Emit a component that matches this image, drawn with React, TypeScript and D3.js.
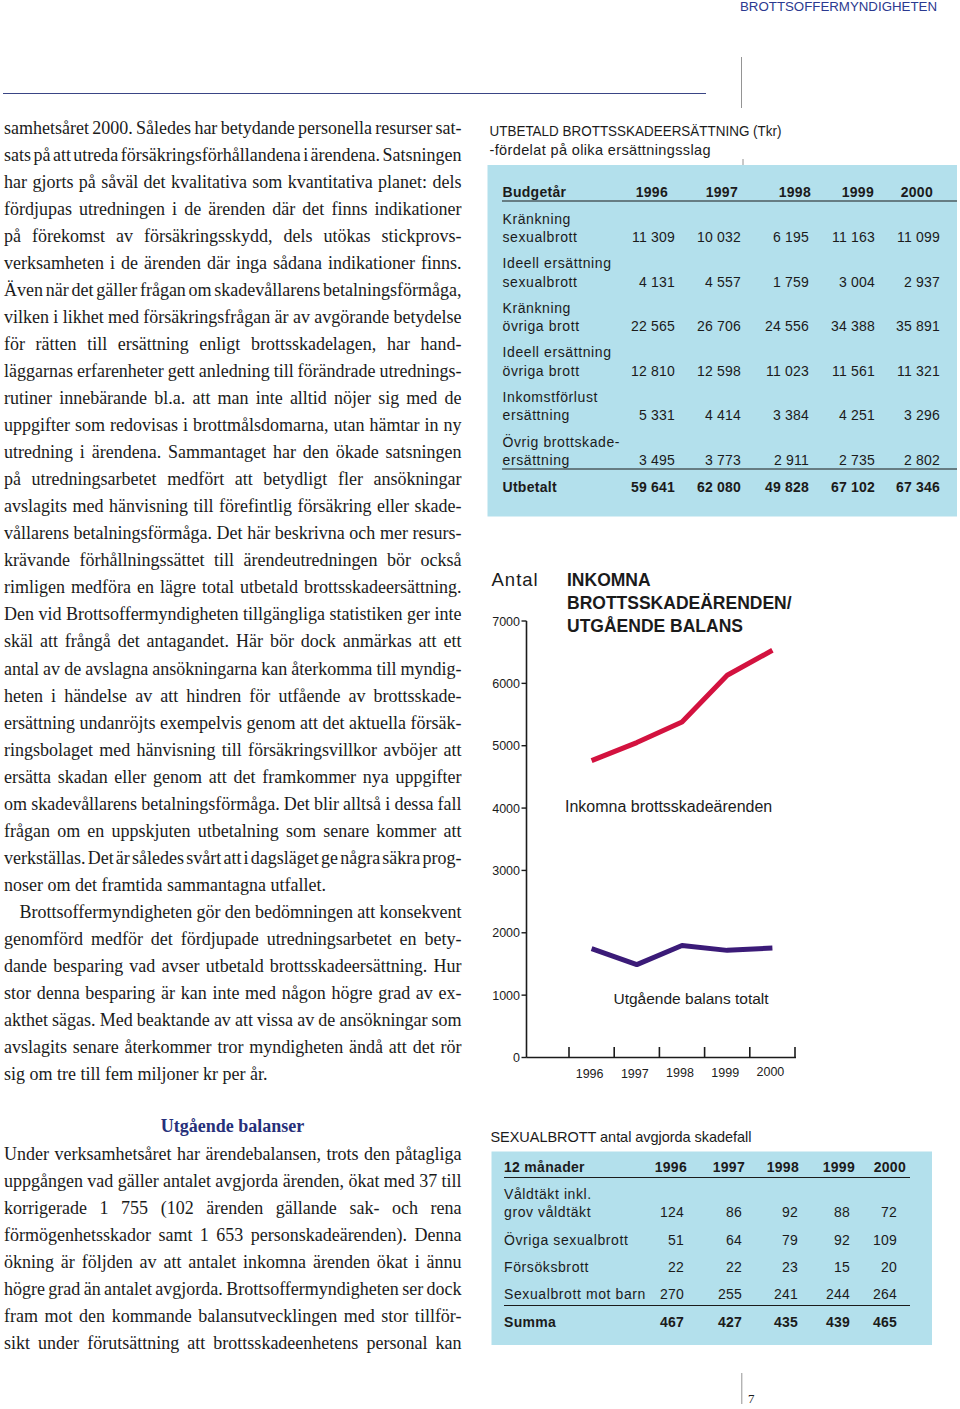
import React from "react";
import * as d3 from "d3";

// ---------- DATA ----------
const years = ["1996", "1997", "1998", "1999", "2000"];

const compLabels: string[][] = [
  ["Kränkning", "sexualbrott"],
  ["Ideell ersättning", "sexualbrott"],
  ["Kränkning", "övriga brott"],
  ["Ideell ersättning", "övriga brott"],
  ["Inkomstförlust", "ersättning"],
  ["Övrig brottskade-", "ersättning"],
];
const compValues: number[][] = [
  [11309, 10032, 6195, 11163, 11099],
  [4131, 4557, 1759, 3004, 2937],
  [22565, 26706, 24556, 34388, 35891],
  [12810, 12598, 11023, 11561, 11321],
  [5331, 4414, 3384, 4251, 3296],
  [3495, 3773, 2911, 2735, 2802],
];
const compTotal = [59641, 62080, 49828, 67102, 67346];

const sexLabels: string[][] = [
  ["Våldtäkt inkl.", "grov våldtäkt"],
  ["Övriga sexualbrott"],
  ["Försöksbrott"],
  ["Sexualbrott mot barn"],
];
const sexValues: number[][] = [
  [124, 86, 92, 88, 72],
  [51, 64, 79, 92, 109],
  [22, 22, 23, 15, 20],
  [270, 255, 241, 244, 264],
];
const sexTotal = [467, 427, 435, 439, 465];

const incoming = [4760, 5050, 5380, 6130, 6530];
const balance = [1745, 1490, 1795, 1718, 1755];
const yTicks = [0, 1000, 2000, 3000, 4000, 5000, 6000, 7000];

const para1 = [
  "samhetsåret 2000. Således har betydande personella resurser sat-",
  "sats på att utreda försäkringsförhållandena i ärendena. Satsningen",
  "har gjorts på såväl det kvalitativa som kvantitativa planet: dels",
  "fördjupas utredningen i de ärenden där det finns indikationer",
  "på förekomst av försäkringsskydd, dels utökas stickprovs-",
  "verksamheten i de ärenden där inga sådana indikationer finns.",
  "Även när det gäller frågan om skadevållarens betalningsförmåga,",
  "vilken i likhet med försäkringsfrågan är av avgörande betydelse",
  "för rätten till ersättning enligt brottsskadelagen, har hand-",
  "läggarnas erfarenheter gett anledning till förändrade utrednings-",
  "rutiner innebärande bl.a. att man inte alltid nöjer sig med de",
  "uppgifter som redovisas i brottmålsdomarna, utan hämtar in ny",
  "utredning i ärendena. Sammantaget har den ökade satsningen",
  "på utredningsarbetet medfört att betydligt fler ansökningar",
  "avslagits med hänvisning till förefintlig försäkring eller skade-",
  "vållarens betalningsförmåga. Det här beskrivna och mer resurs-",
  "krävande förhållningssättet till ärendeutredningen bör också",
  "rimligen medföra en lägre total utbetald brottsskadeersättning.",
  "Den vid Brottsoffermyndigheten tillgängliga statistiken ger inte",
  "skäl att frångå det antagandet. Här bör dock anmärkas att ett",
  "antal av de avslagna ansökningarna kan återkomma till myndig-",
  "heten i händelse av att hindren för utfående av brottsskade-",
  "ersättning undanröjts exempelvis genom att det aktuella försäk-",
  "ringsbolaget med hänvisning till försäkringsvillkor avböjer att",
  "ersätta skadan eller genom att det framkommer nya uppgifter",
  "om skadevållarens betalningsförmåga. Det blir alltså i dessa fall",
  "frågan om en uppskjuten utbetalning som senare kommer att",
  "verkställas. Det är således svårt att i dagsläget ge några säkra prog-",
  "noser om det framtida sammantagna utfallet.",
];
const para2 = [
  "Brottsoffermyndigheten gör den bedömningen att konsekvent",
  "genomförd medför det fördjupade utredningsarbetet en bety-",
  "dande besparing vad avser utbetald brottsskadeersättning. Hur",
  "stor denna besparing är kan inte med någon högre grad av ex-",
  "akthet sägas. Med beaktande av att vissa av de ansökningar som",
  "avslagits senare återkommer tror myndigheten ändå att det rör",
  "sig om tre till fem miljoner kr per år.",
];
const para3 = [
  "Under verksamhetsåret har ärendebalansen, trots den påtagliga",
  "uppgången vad gäller antalet avgjorda ärenden, ökat med 37 till",
  "korrigerade 1 755 (102 ärenden gällande sak- och rena",
  "förmögenhetsskador samt 1 653 personskadeärenden). Denna",
  "ökning är följden av att antalet inkomna ärenden ökat i ännu",
  "högre grad än antalet avgjorda. Brottsoffermyndigheten ser dock",
  "fram mot den kommande balansutvecklingen med stor tillför-",
  "sikt under förutsättning att brottsskadeenhetens personal kan",
];

// ---------- STYLE / LAYOUT ----------
const SERIF = "'Liberation Serif', 'Times New Roman', serif";
const SANS = "'Liberation Sans', Arial, sans-serif";
const BODY_SIZE = 18;
const TEXT_L = 4;
const TEXT_R = 461.5;
const LINE_H = 27.05;
const TABLE_BG = "#b3e0ec";
const INK = "#1b1b1b";
const RED = "#d3123f";
const PURPLE = "#3b1b78";
const BLUE = "#2b3990";

const T1COLS = [675, 741, 809, 875, 940];
const T1HEAD = [668, 738, 811, 874, 933];
const T2COLS = [684, 742, 798, 850, 897];
const T2HEAD = [687, 745, 799, 855, 906];

const TFS = 14;
const TLS = 0.6;

const fmt = d3
  .formatLocale({ decimal: ",", thousands: " ", grouping: [3], currency: ["", ""] })
  .format(",d");

let _ctx: CanvasRenderingContext2D | null = null;
function measure(text: string, font: string): number {
  if (!_ctx) {
    const c = document.createElement("canvas");
    _ctx = c.getContext("2d");
  }
  if (!_ctx) return text.length * 8;
  _ctx.font = font;
  return _ctx.measureText(text).width;
}

function Paragraph({
  lines,
  y0,
  indent,
  justifyLast,
}: {
  lines: string[];
  y0: number;
  indent: number;
  justifyLast: boolean;
}) {
  const font = `${BODY_SIZE}px ${SERIF}`;
  return (
    <g>
      {lines.map((ln, i) => {
        const x = TEXT_L + (i === 0 ? indent : 0);
        const last = i === lines.length - 1 && !justifyLast;
        let ws = 0;
        if (!last) {
          const w = measure(ln, font);
          const spaces = (ln.match(/ /g) || []).length;
          if (spaces > 0) ws = (TEXT_R - x - w) / spaces;
        }
        return (
          <text
            key={i}
            x={x}
            y={y0 + i * LINE_H}
            fontFamily={SERIF}
            fontSize={BODY_SIZE}
            fill={INK}
            style={{ wordSpacing: `${ws}px` }}
          >
            {ln}
          </text>
        );
      })}
    </g>
  );
}

function Chart() {
  const y = d3.scaleLinear().domain([0, 7000]).range([1057.5, 621]);
  const x = d3.scaleBand().domain(years).range([569, 795]);
  const cx = (yr: string) => (x(yr) as number) + x.bandwidth() / 2;
  const line = d3
    .line<number>()
    .x((_, i) => cx(years[i]))
    .y((d) => y(d));
  const axisX = 526.5;
  const tickPositions = [...years.map((yr) => x(yr) as number), 795];
  return (
    <g>
      <text x={491.5} y={586} fontFamily={SANS} fontSize={18.5} letterSpacing={1} fill={INK}>
        Antal
      </text>
      {["INKOMNA", "BROTTSSKADEÄRENDEN/", "UTGÅENDE BALANS"].map((t, i) => (
        <text
          key={t}
          x={567}
          y={586 + i * 23}
          fontFamily={SANS}
          fontSize={17.5}
          fontWeight="bold"
          fill={INK}
        >
          {t}
        </text>
      ))}
      {/* y axis */}
      <line x1={axisX} x2={axisX} y1={y(7000)} y2={y(0)} stroke={INK} strokeWidth={1.6} />
      {yTicks.map((t) => (
        <g key={t}>
          <line x1={axisX - 5} x2={axisX} y1={y(t)} y2={y(t)} stroke={INK} strokeWidth={1.4} />
          <text
            x={520}
            y={y(t) + 4.5}
            textAnchor="end"
            fontFamily={SANS}
            fontSize={12.5}
            fill={INK}
          >
            {t}
          </text>
        </g>
      ))}
      {/* x axis */}
      <line x1={axisX} x2={796} y1={y(0)} y2={y(0)} stroke={INK} strokeWidth={1.6} />
      {tickPositions.map((p, i) => (
        <line key={i} x1={p} x2={p} y1={y(0)} y2={y(0) - 10.5} stroke={INK} strokeWidth={1.6} />
      ))}
      {years.map((yr, i) => (
        <text
          key={yr}
          x={cx(yr) - 2}
          y={1078 - i * 0.5}
          textAnchor="middle"
          fontFamily={SANS}
          fontSize={12.5}
          fill={INK}
        >
          {yr}
        </text>
      ))}
      <path
        d={line(incoming) || ""}
        fill="none"
        stroke={RED}
        strokeWidth={5}
        strokeLinejoin="round"
      />
      <path
        d={line(balance) || ""}
        fill="none"
        stroke={PURPLE}
        strokeWidth={5}
        strokeLinejoin="round"
      />
      <text x={565} y={812} fontFamily={SANS} fontSize={16} fill={INK}>
        Inkomna brottsskadeärenden
      </text>
      <text x={613.5} y={1003.5} fontFamily={SANS} fontSize={15.5} fill={INK}>
        Utgående balans totalt
      </text>
    </g>
  );
}

function CompTable() {
  const rowY = (i: number) => 242 + i * 44.6;
  return (
    <g>
      <text x={489.5} y={135.5} fontFamily={SANS} fontSize={15} fill={INK} textLength={292} lengthAdjust="spacingAndGlyphs">
        UTBETALD BROTTSSKADEERSÄTTNING (Tkr)
      </text>
      <text x={489.5} y={154.5} fontFamily={SANS} fontSize={14.5} fill={INK} textLength={221} lengthAdjust="spacing">
        -fördelat på olika ersättningsslag
      </text>
      <rect x={487.5} y={165} width={469.5} height={351.5} fill={TABLE_BG} />
      <line x1={743} x2={743} y1={159} y2={165} stroke="#777" strokeWidth={0.8} />
      <text x={502.5} y={197} fontFamily={SANS} fontSize={TFS} fontWeight="bold" letterSpacing={0.3} fill={INK}>
        Budgetår
      </text>
      {years.map((yr, j) => (
        <text key={yr} x={T1HEAD[j]} y={197} textAnchor="end" fontFamily={SANS} fontSize={TFS} fontWeight="bold" letterSpacing={0.3} fill={INK}>
          {yr}
        </text>
      ))}
      <line x1={502} x2={957} y1={201} y2={201} stroke={INK} strokeWidth={1} />
      {compLabels.map((lab, i) => (
        <g key={i}>
          <text x={502.5} y={rowY(i) - 18.5} fontFamily={SANS} fontSize={TFS} letterSpacing={TLS} fill={INK}>
            {lab[0]}
          </text>
          <text x={502.5} y={rowY(i)} fontFamily={SANS} fontSize={TFS} letterSpacing={TLS} fill={INK}>
            {lab[1]}
          </text>
          {compValues[i].map((v, j) => (
            <text key={j} x={T1COLS[j]} y={rowY(i)} textAnchor="end" fontFamily={SANS} fontSize={TFS} letterSpacing={0.2} fill={INK}>
              {fmt(v)}
            </text>
          ))}
        </g>
      ))}
      <line x1={502} x2={957} y1={469} y2={469} stroke={INK} strokeWidth={1} />
      <text x={502.5} y={492} fontFamily={SANS} fontSize={TFS} fontWeight="bold" letterSpacing={0.3} fill={INK}>
        Utbetalt
      </text>
      {compTotal.map((v, j) => (
        <text key={j} x={T1COLS[j]} y={492} textAnchor="end" fontFamily={SANS} fontSize={TFS} fontWeight="bold" letterSpacing={0.2} fill={INK}>
          {fmt(v)}
        </text>
      ))}
    </g>
  );
}

function SexTable() {
  const rowY = [1217, 1244.5, 1272, 1299];
  return (
    <g>
      <text x={490.5} y={1141.5} fontFamily={SANS} fontSize={14.5} fill={INK} textLength={261} lengthAdjust="spacing">
        SEXUALBROTT antal avgjorda skadefall
      </text>
      <rect x={491.5} y={1151.5} width={440.5} height={193.5} fill={TABLE_BG} />
      <text x={504} y={1172} fontFamily={SANS} fontSize={TFS} fontWeight="bold" letterSpacing={0.3} fill={INK}>
        12 månader
      </text>
      {years.map((yr, j) => (
        <text key={yr} x={T2HEAD[j]} y={1172} textAnchor="end" fontFamily={SANS} fontSize={TFS} fontWeight="bold" letterSpacing={0.3} fill={INK}>
          {yr}
        </text>
      ))}
      <line x1={504} x2={910} y1={1177.5} y2={1177.5} stroke={INK} strokeWidth={1} />
      {sexLabels.map((lab, i) => (
        <g key={i}>
          {lab.map((l, k) => (
            <text
              key={k}
              x={504}
              y={rowY[i] - (lab.length - 1 - k) * 18}
              fontFamily={SANS}
              fontSize={TFS}
              letterSpacing={TLS}
              fill={INK}
            >
              {l}
            </text>
          ))}
          {sexValues[i].map((v, j) => (
            <text key={j} x={T2COLS[j]} y={rowY[i]} textAnchor="end" fontFamily={SANS} fontSize={TFS} letterSpacing={0.2} fill={INK}>
              {fmt(v)}
            </text>
          ))}
        </g>
      ))}
      <line x1={504} x2={910} y1={1305.5} y2={1305.5} stroke={INK} strokeWidth={1} />
      <text x={504} y={1327} fontFamily={SANS} fontSize={TFS} fontWeight="bold" letterSpacing={0.3} fill={INK}>
        Summa
      </text>
      {sexTotal.map((v, j) => (
        <text key={j} x={T2COLS[j]} y={1327} textAnchor="end" fontFamily={SANS} fontSize={TFS} fontWeight="bold" letterSpacing={0.2} fill={INK}>
          {fmt(v)}
        </text>
      ))}
    </g>
  );
}

export default function App() {
  return (
    <svg
      width={960}
      height={1409}
      viewBox="0 0 960 1409"
      style={{ position: "absolute", left: 0, top: 0, background: "#fff" }}
    >
      <rect x={0} y={0} width={960} height={1409} fill="#fff" />
      {/* page header */}
      <text x={740} y={11} fontFamily={SANS} fontSize={12} fill={BLUE} textLength={197} lengthAdjust="spacingAndGlyphs">
        BROTTSOFFERMYNDIGHETEN
      </text>
      <line x1={3} x2={706} y1={93.5} y2={93.5} stroke="#3a4585" strokeWidth={1.2} />
      <line x1={741.5} x2={741.5} y1={57} y2={108} stroke="#888" strokeWidth={0.9} />

      {/* left column text */}
      <Paragraph lines={para1} y0={133.5} indent={0} justifyLast={false} />
      <Paragraph lines={para2} y0={133.5 + para1.length * LINE_H} indent={15.5} justifyLast={false} />
      <text
        x={232.5}
        y={1131.5}
        textAnchor="middle"
        fontFamily={SERIF}
        fontSize={18}
        fontWeight="bold"
        fill="#27307a"
      >
        Utgående balanser
      </text>
      <Paragraph lines={para3} y0={1159.5} indent={0} justifyLast={true} />

      {/* right column */}
      <CompTable />
      <Chart />
      <SexTable />

      {/* footer */}
      <line x1={741.8} x2={741.8} y1={1373} y2={1404} stroke="#888" strokeWidth={0.9} />
      <text x={748} y={1403} fontFamily={SERIF} fontSize={13} fill={INK}>
        7
      </text>
    </svg>
  );
}
